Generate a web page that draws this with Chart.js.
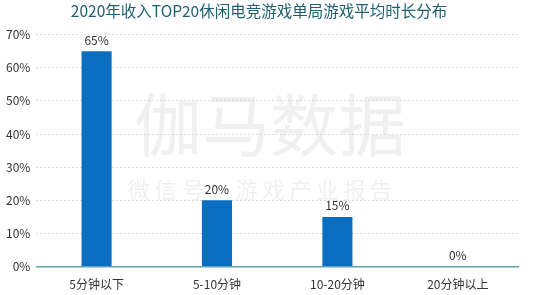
<!DOCTYPE html>
<html>
<head>
<meta charset="utf-8">
<script src="https://cdn.jsdelivr.net/npm/chart.js@4"></script>
<style>
  html, body { margin: 0; padding: 0; background: #fff; }
  #wrap { width: 546px; height: 295px; position: relative; }
</style>
</head>
<body>
<div id="wrap"><canvas id="chart"></canvas></div>
<script>
const title = '2020年收入TOP20休闲电竞游戏单局游戏平均时长分布';
const categories = ['5分钟以下', '5-10分钟', '10-20分钟', '20分钟以上'];
const shares = [65, 20, 15, 0];
const yTicks = [0, 10, 20, 30, 40, 50, 60, 70];

// Valeurs au-dessus des barres + filigrane
const labelPlugin = {
    id: 'barLabels',
    beforeDatasetsDraw(chart) {
        const ctx = chart.ctx;
        ctx.save();
        ctx.fillStyle = 'rgba(205,205,205,0.3)';
        ctx.textAlign = 'center';
        ctx.textBaseline = 'middle';
        ctx.font = '68px "Noto Sans CJK SC"';
        ctx.fillText('伽马数据', 270, 125);
        ctx.font = '22px "Noto Sans CJK SC"';
        ctx.fillText('微 信 号 ： 游 戏 产 业 报 告', 260, 190);
        ctx.restore();
    },
    afterDatasetsDraw(chart) {
        const ctx = chart.ctx;
        const meta = chart.getDatasetMeta(0);
        ctx.save();
        ctx.fillStyle = '#333';
        ctx.font = '12px "Noto Sans CJK SC"';
        ctx.textAlign = 'center';
        ctx.textBaseline = 'bottom';
        meta.data.forEach((bar, i) => {
            ctx.fillText(shares[i] + '%', bar.x, bar.y - 5);
        });
        ctx.restore();
    }
};

new Chart(document.getElementById('chart'), {
    type: 'bar',
    data: {
        labels: categories,
        datasets: [{
            data: shares,
            backgroundColor: '#0a6fc0',
            barPercentage: 0.25,
            categoryPercentage: 1
        }]
    },
    options: {
        responsive: true,
        maintainAspectRatio: false,
        animation: false,
        layout: { padding: { left: 0, right: 28, top: 0, bottom: 0 } },
        plugins: {
            legend: { display: false },
            tooltip: { enabled: false },
            title: {
                display: true,
                text: title,
                color: '#1f6070',
                font: { family: '"Noto Sans CJK SC"', size: 15.5, weight: 'normal' },
                padding: { top: 2, bottom: 14 }
            }
        },
        scales: {
            x: {
                grid: { display: false },
                border: { color: '#5fa3b3', width: 1.5 },
                ticks: { color: '#333', font: { family: '"Noto Sans CJK SC"', size: 12 }, padding: 3 }
            },
            y: {
                min: 0,
                max: 70,
                afterBuildTicks(scale) { scale.ticks = yTicks.map(v => ({ value: v })); },
                border: { display: false, dash: [2, 2] },
                grid: { color: '#ddd', drawTicks: false },
                ticks: {
                    color: '#333',
                    font: { family: '"Noto Sans CJK SC"', size: 12 },
                    padding: 6,
                    callback: v => v + '%'
                }
            }
        }
    },
    plugins: [labelPlugin]
});
</script>
</body>
</html>
